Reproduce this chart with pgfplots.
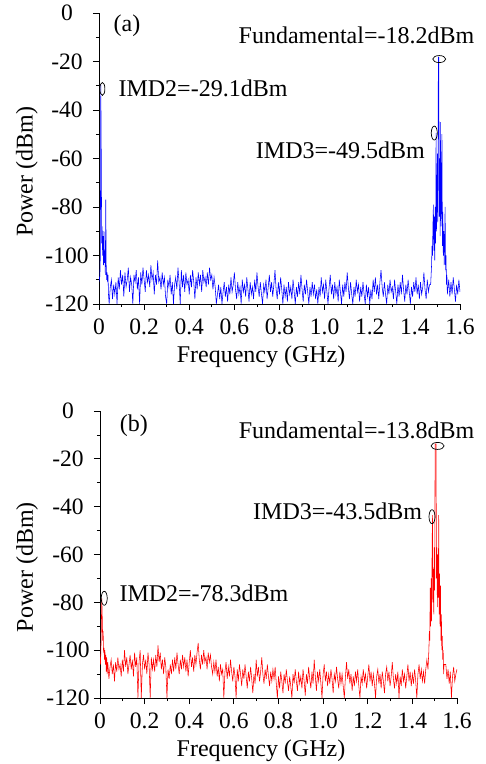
\documentclass[border=0pt]{standalone}
\usepackage{fontspec}
\setmainfont{Liberation Serif}
\usepackage{pgfplots}
\pgfplotsset{compat=1.18}
\newcommand\lblfont{\fontsize{24}{28}\selectfont}
\newcommand\tckfont{\fontsize{23.5}{26}\selectfont}
\pgfplotsset{
  specstyle/.style={
    scale only axis,
    xmin=0, xmax=1.6, ymin=-120, ymax=0,
    axis x line*=bottom, axis y line*=left,
    axis line style={black, line width=0.8pt},
    tick align=outside,
    major tick length=6pt, minor tick length=3pt,
    tick style={black, line width=0.8pt},
    xtick={0,0.2,0.4,0.6,0.8,1.0,1.2,1.4,1.6},
    xticklabels={0,0.2,0.4,0.6,0.8,1.0,1.2,1.4,1.6},
    ytick={0,-20,-40,-60,-80,-100,-120},
    yticklabels={0,-20,-40,-60,-80,-100,-120},
    minor x tick num=1, minor y tick num=1,
    ticklabel style={font=\tckfont},
    yticklabel style={anchor=center, xshift=-26pt},
    xticklabel style={yshift=-5pt},
    label style={font=\lblfont},
    xlabel={Frequency (GHz)}, ylabel={Power (dBm)},
    clip mode=individual,
  }
}
\begin{document}
\begin{tikzpicture}
\path[use as bounding box] (0,0) rectangle (486pt,764pt);
% ---------------- panel (a)
\begin{axis}[specstyle, at={(99pt,460pt)}, anchor=south west,
  width=361pt, height=291pt,
  xlabel style={at={(axis description cs:0.449,-0.182)}, anchor=center},
  ylabel style={at={(axis description cs:-0.2,0.454)}, anchor=center}]
\addplot[blue, line width=0.55pt] coordinates {
(0,-109)(0.002,-110)(0.004,-108)(0.006,-100)(0.008,-29.5)(0.010,-58)(0.012,-95)(0.014,-88)(0.016,-100)(0.018,-92)
(0.020,-104)(0.022,-90)(0.024,-103)(0.026,-98)(0.028,-108)(0.030,-77)(0.032,-104)(0.034,-110)(0.036,-107)(0.038,-111)
(0.040,-108)(0.042,-116)(0.045,-120)
(0.050,-113)(0.055,-110)(0.060,-118)(0.065,-112)(0.070,-116)(0.075,-111)(0.080,-120)(0.085,-109)(0.090,-114)(0.095,-106)
(0.100,-112)(0.105,-108)(0.110,-117)(0.115,-107)(0.120,-113)(0.125,-110)(0.130,-105)(0.135,-115)(0.140,-109)(0.145,-112)
(0.150,-120)(0.155,-108)(0.160,-111)(0.165,-106)(0.170,-114)(0.175,-109)(0.180,-120)(0.185,-107)(0.190,-112)(0.195,-105)
(0.200,-110)(0.205,-115)(0.210,-106)(0.215,-111)(0.220,-108)(0.225,-113)(0.230,-104)(0.235,-110)(0.240,-107)(0.245,-116)
(0.250,-108)(0.255,-112)(0.260,-102)(0.265,-111)(0.270,-109)(0.275,-114)(0.280,-107)(0.285,-112)(0.290,-109)(0.295,-117)
(0.300,-120)(0.305,-110)(0.310,-113)(0.315,-108)(0.320,-116)(0.325,-111)(0.330,-120)(0.335,-112)(0.340,-109)(0.345,-114)
(0.350,-105)(0.355,-111)(0.360,-120)(0.365,-106)(0.370,-113)(0.375,-108)(0.380,-115)(0.385,-107)(0.390,-112)(0.395,-110)
(0.400,-116)(0.405,-108)(0.410,-113)(0.415,-106)(0.420,-111)(0.425,-118)(0.430,-109)(0.435,-114)(0.440,-107)(0.445,-112)
(0.450,-108)(0.455,-115)(0.460,-106)(0.465,-111)(0.470,-109)(0.475,-113)(0.480,-107)(0.485,-112)(0.490,-105)(0.495,-110)
(0.500,-108)(0.505,-114)(0.510,-109)(0.515,-113)(0.520,-120)(0.525,-116)(0.530,-112)(0.535,-118)(0.540,-113)(0.545,-120)
(0.550,-115)(0.555,-111)(0.560,-117)(0.565,-113)(0.570,-119)(0.575,-112)(0.580,-116)(0.585,-109)(0.590,-115)(0.595,-112)
(0.600,-107)(0.605,-114)(0.610,-118)(0.615,-111)(0.620,-116)(0.625,-113)(0.630,-120)(0.635,-110)(0.640,-115)(0.645,-112)
(0.650,-117)(0.655,-109)(0.660,-114)(0.665,-119)(0.670,-111)(0.675,-116)(0.680,-113)(0.685,-118)(0.690,-110)(0.695,-115)
(0.700,-107)(0.705,-113)(0.710,-117)(0.715,-111)(0.720,-116)(0.725,-120)(0.730,-112)(0.735,-115)(0.740,-110)(0.745,-118)
(0.750,-113)(0.755,-108)(0.760,-115)(0.765,-111)(0.770,-117)(0.775,-112)(0.780,-106)(0.785,-114)(0.790,-118)(0.795,-111)
(0.800,-116)(0.805,-109)(0.810,-114)(0.815,-120)(0.820,-112)(0.825,-117)(0.830,-113)(0.835,-119)(0.840,-111)(0.845,-116)
(0.850,-113)(0.855,-118)(0.860,-110)(0.865,-115)(0.870,-120)(0.875,-113)(0.880,-117)(0.885,-111)(0.890,-116)(0.895,-108)
(0.900,-114)(0.905,-119)(0.910,-112)(0.915,-116)(0.920,-110)(0.925,-115)(0.930,-120)(0.935,-113)(0.940,-117)(0.945,-111)
(0.950,-116)(0.955,-112)(0.960,-118)(0.965,-114)(0.970,-120)(0.975,-113)(0.980,-117)(0.985,-109)(0.990,-115)(0.995,-112)
(1.000,-118)(1.005,-110)(1.010,-115)(1.015,-120)(1.020,-113)(1.025,-108)(1.030,-116)(1.035,-112)(1.040,-118)(1.045,-111)
(1.050,-116)(1.055,-113)(1.060,-119)(1.065,-110)(1.070,-115)(1.075,-120)(1.080,-112)(1.085,-117)(1.090,-111)(1.095,-115)
(1.100,-107)(1.105,-113)(1.110,-118)(1.115,-111)(1.120,-116)(1.125,-120)(1.130,-113)(1.135,-117)(1.140,-110)(1.145,-115)
(1.150,-112)(1.155,-119)(1.160,-113)(1.165,-117)(1.170,-111)(1.175,-116)(1.180,-120)(1.185,-112)(1.190,-117)(1.195,-113)
(1.200,-120)(1.205,-114)(1.210,-118)(1.215,-110)(1.220,-115)(1.225,-109)(1.230,-116)(1.235,-112)(1.240,-118)(1.245,-111)
(1.250,-106)(1.255,-113)(1.260,-117)(1.265,-111)(1.270,-116)(1.275,-120)(1.280,-112)(1.285,-116)(1.290,-110)(1.295,-115)
(1.300,-113)(1.305,-118)(1.310,-110)(1.315,-115)(1.320,-120)(1.325,-112)(1.330,-117)(1.335,-111)(1.340,-116)(1.345,-108)
(1.350,-114)(1.355,-119)(1.360,-112)(1.365,-116)(1.370,-110)(1.375,-115)(1.380,-120)(1.385,-113)(1.390,-117)(1.395,-111)
(1.400,-115)(1.405,-109)(1.410,-116)(1.415,-112)(1.420,-118)(1.425,-111)(1.430,-116)(1.435,-113)(1.440,-107)(1.445,-114)
(1.450,-118)(1.455,-110)(1.460,-115)(1.465,-112)
(1.470,-112)(1.472,-108)(1.474,-104)(1.476,-96)(1.478,-100)(1.480,-88)(1.482,-79)(1.484,-98)(1.486,-84)(1.488,-102)
(1.490,-80)(1.492,-95)(1.494,-49.5)(1.496,-90)(1.498,-82)(1.500,-58)(1.502,-86)(1.504,-18.2)(1.506,-18.2)(1.508,-84)
(1.510,-60)(1.512,-92)(1.514,-45)(1.516,-88)(1.518,-80)(1.520,-50)(1.522,-96)(1.524,-82)(1.526,-100)(1.528,-90)
(1.530,-104)(1.532,-95)(1.534,-80)(1.536,-106)(1.538,-100)(1.540,-112)(1.542,-108)(1.544,-116)
(1.550,-110)(1.555,-117)(1.560,-111)(1.565,-116)(1.570,-109)(1.575,-114)(1.580,-119)(1.585,-112)(1.590,-116)(1.595,-110)(1.600,-115)
};
\node[font=\lblfont] at (axis cs:0.124,-5.4) {(a)};
\node[font=\lblfont] at (axis cs:1.141,-9.1) {Fundamental=-18.2dBm};
\node[font=\lblfont] at (axis cs:0.461,-30.9) {IMD2=-29.1dBm};
\node[font=\lblfont] at (axis cs:1.070,-56.5) {IMD3=-49.5dBm};
\draw[black, line width=0.7pt] (axis cs:1.508,-19.0) ellipse [x radius=6.5pt, y radius=3.5pt];
\draw[black, line width=0.7pt] (axis cs:0.015,-31.3) ellipse [x radius=2.5pt, y radius=6.5pt];
\draw[black, line width=0.7pt] (axis cs:1.486,-49.5) ellipse [x radius=3pt, y radius=7pt];
\end{axis}
% ---------------- panel (b)
\begin{axis}[specstyle, at={(100pt,66pt)}, anchor=south west,
  width=357pt, height=287pt,
  xlabel style={at={(axis description cs:0.451,-0.184)}, anchor=center},
  ylabel style={at={(axis description cs:-0.204,0.456)}, anchor=center}]
\addplot[red, line width=0.55pt] coordinates {
(0,-103)(0.002,-106)(0.004,-100)(0.006,-90)(0.008,-78.3)(0.010,-86)(0.012,-96)(0.014,-92)(0.016,-101)(0.018,-99)
(0.020,-104)(0.022,-100)(0.024,-106)(0.026,-102)(0.028,-109)(0.030,-103)(0.032,-110)(0.035,-105)(0.040,-112)(0.045,-107)
(0.050,-104)(0.055,-110)(0.060,-106)(0.065,-113)(0.070,-105)(0.075,-109)(0.080,-103)(0.085,-108)(0.090,-106)(0.095,-111)
(0.100,-104)(0.105,-109)(0.110,-100)(0.115,-107)(0.120,-103)(0.125,-110)(0.130,-106)(0.135,-102)(0.140,-108)(0.145,-104)
(0.150,-111)(0.155,-101)(0.160,-107)(0.165,-103)(0.170,-120)(0.175,-105)(0.180,-100)(0.185,-120)(0.190,-106)(0.195,-102)
(0.200,-108)(0.205,-104)(0.210,-110)(0.215,-101)(0.220,-106)(0.225,-120)(0.230,-103)(0.235,-108)(0.240,-104)(0.245,-109)
(0.250,-102)(0.255,-107)(0.260,-98)(0.265,-105)(0.270,-101)(0.275,-108)(0.280,-104)(0.285,-110)(0.290,-103)(0.295,-107)
(0.300,-120)(0.305,-108)(0.310,-112)(0.315,-106)(0.320,-110)(0.325,-104)(0.330,-109)(0.335,-103)(0.340,-108)(0.345,-101)
(0.350,-106)(0.355,-110)(0.360,-104)(0.365,-108)(0.370,-102)(0.375,-107)(0.380,-103)(0.385,-109)(0.390,-104)(0.395,-111)
(0.400,-105)(0.405,-100)(0.410,-107)(0.415,-103)(0.420,-109)(0.425,-102)(0.430,-106)(0.435,-101)(0.440,-97)(0.445,-104)
(0.450,-108)(0.455,-102)(0.460,-106)(0.465,-100)(0.470,-105)(0.475,-103)(0.480,-108)(0.485,-101)(0.490,-105)(0.495,-102)
(0.500,-107)(0.505,-110)(0.510,-105)(0.515,-109)(0.520,-104)(0.525,-111)(0.530,-107)(0.535,-113)(0.540,-106)(0.545,-110)
(0.550,-108)(0.555,-120)(0.560,-109)(0.565,-105)(0.570,-112)(0.575,-107)(0.580,-111)(0.585,-104)(0.590,-109)(0.595,-113)
(0.600,-107)(0.605,-111)(0.610,-120)(0.615,-108)(0.620,-113)(0.625,-106)(0.630,-110)(0.635,-115)(0.640,-108)(0.645,-112)
(0.650,-106)(0.655,-111)(0.660,-116)(0.665,-109)(0.670,-113)(0.675,-107)(0.680,-112)(0.685,-118)(0.690,-110)(0.695,-114)
(0.700,-104)(0.705,-111)(0.710,-107)(0.715,-113)(0.720,-109)(0.725,-103)(0.730,-110)(0.735,-114)(0.740,-108)(0.745,-112)
(0.750,-106)(0.755,-111)(0.760,-115)(0.765,-109)(0.770,-113)(0.775,-108)(0.780,-112)(0.785,-107)(0.790,-114)(0.795,-120)
(0.800,-111)(0.805,-116)(0.810,-109)(0.815,-113)(0.820,-118)(0.825,-110)(0.830,-114)(0.835,-108)(0.840,-113)(0.845,-117)
(0.850,-111)(0.855,-115)(0.860,-120)(0.865,-110)(0.870,-114)(0.875,-108)(0.880,-113)(0.885,-117)(0.890,-109)(0.895,-114)
(0.900,-111)(0.905,-116)(0.910,-108)(0.915,-113)(0.920,-119)(0.925,-110)(0.930,-114)(0.935,-107)(0.940,-112)(0.945,-116)
(0.950,-109)(0.955,-114)(0.960,-104)(0.965,-111)(0.970,-117)(0.975,-109)(0.980,-113)(0.985,-108)(0.990,-114)(0.995,-120)
(1.000,-110)(1.005,-106)(1.010,-113)(1.015,-109)(1.020,-115)(1.025,-110)(1.030,-114)(1.035,-108)(1.040,-112)(1.045,-118)
(1.050,-110)(1.055,-113)(1.060,-107)(1.065,-112)(1.070,-116)(1.075,-109)(1.080,-114)(1.085,-110)(1.090,-115)(1.095,-120)
(1.100,-111)(1.105,-105)(1.110,-112)(1.115,-108)(1.120,-114)(1.125,-110)(1.130,-117)(1.135,-111)(1.140,-115)(1.145,-109)
(1.150,-113)(1.155,-108)(1.160,-115)(1.165,-120)(1.170,-111)(1.175,-114)(1.180,-108)(1.185,-113)(1.190,-110)(1.195,-116)
(1.200,-111)(1.205,-106)(1.210,-113)(1.215,-109)(1.220,-115)(1.225,-110)(1.230,-114)(1.235,-120)(1.240,-111)(1.245,-108)
(1.250,-114)(1.255,-110)(1.260,-116)(1.265,-109)(1.270,-113)(1.275,-118)(1.280,-110)(1.285,-107)(1.290,-113)(1.295,-109)
(1.300,-115)(1.305,-111)(1.310,-105)(1.315,-112)(1.320,-116)(1.325,-110)(1.330,-114)(1.335,-109)(1.340,-120)(1.345,-111)
(1.350,-115)(1.355,-108)(1.360,-113)(1.365,-110)(1.370,-116)(1.375,-111)(1.380,-106)(1.385,-113)(1.390,-109)(1.395,-115)
(1.400,-110)(1.405,-114)(1.410,-108)(1.415,-113)(1.420,-120)(1.425,-110)(1.430,-106)(1.435,-112)(1.440,-108)(1.445,-113)
(1.450,-109)(1.455,-114)(1.460,-108)(1.465,-104)
(1.470,-108)(1.472,-104)(1.474,-100)(1.476,-92)(1.478,-96)(1.480,-74)(1.482,-90)(1.484,-70)(1.486,-88)(1.488,-62)
(1.490,-43.5)(1.492,-80)(1.494,-66)(1.496,-85)(1.498,-57)(1.500,-75)(1.502,-13.8)(1.504,-13.8)(1.506,-13.8)(1.508,-70)
(1.510,-57)(1.512,-82)(1.514,-60)(1.516,-78)(1.518,-43.5)(1.520,-85)(1.522,-68)(1.524,-90)(1.526,-73)(1.528,-96)
(1.530,-85)(1.532,-100)(1.534,-94)(1.536,-104)(1.538,-100)(1.540,-110)(1.542,-106)
(1.550,-106)(1.555,-112)(1.560,-108)(1.565,-114)(1.570,-109)(1.575,-120)(1.580,-111)(1.585,-107)(1.590,-113)(1.595,-110)(1.600,-108)
};
\node[font=\lblfont] at (axis cs:0.152,-6.3) {(b)};
\node[font=\lblfont] at (axis cs:1.150,-8.2) {Fundamental=-13.8dBm};
\node[font=\lblfont] at (axis cs:1.065,-42.1) {IMD3=-43.5dBm};
\node[font=\lblfont] at (axis cs:0.466,-76.1) {IMD2=-78.3dBm};
\draw[black, line width=0.7pt] (axis cs:1.513,-14.6) ellipse [x radius=6.5pt, y radius=3.5pt];
\draw[black, line width=0.7pt] (axis cs:1.488,-44.2) ellipse [x radius=3pt, y radius=7pt];
\draw[black, line width=0.7pt] (axis cs:0.019,-78.3) ellipse [x radius=3pt, y radius=7pt];
\end{axis}
\end{tikzpicture}
\end{document}
